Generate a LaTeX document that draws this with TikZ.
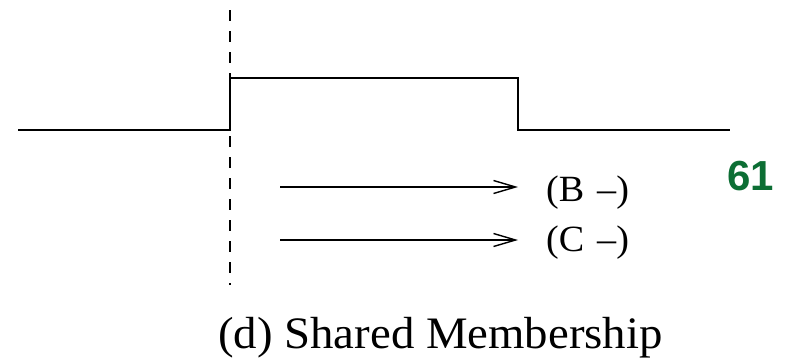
\documentclass[tikz,border=0pt]{standalone}
\usepackage{fontspec}
\setmainfont{Liberation Serif}
\newfontfamily\lblfont[FakeStretch=1.03]{Liberation Serif}
\newfontfamily\capfont[FakeStretch=1.04]{Liberation Serif}
\newfontfamily\numfont{Liberation Sans}
\usetikzlibrary{arrows.meta}
\definecolor{numgreen}{RGB}{12,110,52}
\tikzset{
  signal/.style={line width=2pt, line join=miter},
  guide/.style={line width=1.5pt, dash pattern=on 11pt off 10pt},
  flow/.style={line width=1.4pt, -{Straight Barb[length=22pt,width=13pt,line width=1.4pt]}},
  lbl/.style={font=\lblfont\fontsize{37}{40}\selectfont, inner sep=0pt, anchor=base west},
  caption/.style={font=\capfont\fontsize{45}{50}\selectfont, inner sep=0pt, anchor=base west},
  pagenum/.style={font=\numfont\bfseries\fontsize{42}{46}\selectfont, text=numgreen, inner sep=0pt, anchor=base west}
}
\begin{document}
\begin{tikzpicture}[x=1pt,y=-1pt]
\useasboundingbox (0,0) rectangle (786,360);
% signal waveform
\draw[signal] (18,130) -- (230,130) -- (230,78) -- (518,78) -- (518,130) -- (730,130);
% dashed guide
\draw[guide] (230,10) -- (230,285);
% arrows
\coordinate (b0) at (280,187);
\coordinate (b1) at (518,187);
\coordinate (c0) at (280,240);
\coordinate (c1) at (518,240);
\draw[flow] (b0) -- (b1);
\draw[flow] (c0) -- (c1);
\node[lbl] (lb) at (546,201) {(B\hspace{0.35em}\textendash)};
\node[lbl] (lc) at (546,251) {(C\hspace{0.35em}\textendash)};
\node[pagenum] (num) at (727,190) {61};
\node[caption] (cap) at (218,348) {(d) Shared Membership};
\end{tikzpicture}
\end{document}
